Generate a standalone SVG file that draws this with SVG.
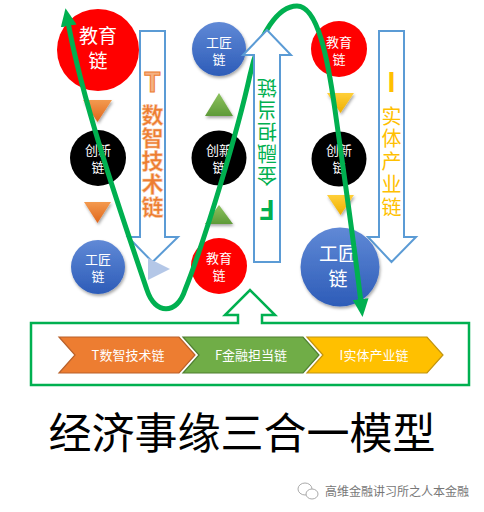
<svg xmlns="http://www.w3.org/2000/svg" width="484" height="512" viewBox="0 0 484 512">
<defs>
<style>
.ct{font-family:"Noto Sans CJK SC","Noto Sans",sans-serif;fill:#fff;text-anchor:middle}
.arr{fill:#fff;stroke:#5B9BD5;stroke-width:2}
.vt{font-family:"Noto Sans CJK SC","Noto Sans",sans-serif;text-anchor:middle}
.vv{font-family:"Noto Sans CJK SC","Noto Sans",sans-serif;writing-mode:vertical-rl;text-orientation:upright}
.chev-t{font-family:"Noto Sans CJK SC","Noto Sans",sans-serif;fill:#fff;text-anchor:middle;font-size:13px}
.ttl{font-family:"Noto Sans CJK SC","Noto Sans",sans-serif;font-size:43px;text-anchor:middle;fill:#000}
.wm{font-family:"Noto Sans CJK SC","Noto Sans",sans-serif;font-size:12px;fill:#777}
</style>
<linearGradient id="gBlue" x1="0" y1="0" x2="0" y2="1"><stop offset="0" stop-color="#6089D6"/><stop offset="1" stop-color="#2D5CB8"/></linearGradient>
<linearGradient id="gOr" x1="0" y1="0" x2="0" y2="1"><stop offset="0" stop-color="#F39A4F"/><stop offset="1" stop-color="#E0661A"/></linearGradient>
<linearGradient id="gGr" x1="0" y1="0" x2="0" y2="1"><stop offset="0" stop-color="#8CC25E"/><stop offset="1" stop-color="#5E9A38"/></linearGradient>
<linearGradient id="gYe" x1="0" y1="0" x2="0" y2="1"><stop offset="0" stop-color="#FFCF3A"/><stop offset="1" stop-color="#EEAF00"/></linearGradient>
<filter id="sh" x="-30%" y="-30%" width="160%" height="160%"><feDropShadow dx="1" dy="2" stdDeviation="1.5" flood-color="#000" flood-opacity="0.35"/></filter>
<marker id="ah" markerUnits="userSpaceOnUse" viewBox="0 0 18 16" markerWidth="18" markerHeight="16" refX="4" refY="8" orient="auto-start-reverse"><path d="M0,0 L18,8 L0,16 Z" fill="#00B050"/></marker>
</defs>
<rect width="484" height="512" fill="#fff"/>

<g id="arrow-T">
<path class="arr" d="M140,31 H165 V237 H178 L152.5,262 L128,237 H140 Z"/>
<polygon points="148,258 170,269 148,280" fill="#B4C7E7"/>
<text class="vt" x="152.5" y="92" font-size="27" font-weight="bold" fill="#F4B183" stroke="#ED7D31" stroke-width="1">T</text>
<text class="vv" x="152.5" y="104" font-size="22" letter-spacing="1" font-weight="bold" fill="#ED7D31" stroke="#F8CBAD" stroke-width="0.5">数智技术链</text>
</g>

<g id="arrow-I">
<path class="arr" d="M379,31 H404 V237 H416 L391.5,262 L368,237 H379 Z"/>
<text class="vt" x="391.5" y="92" font-size="27" font-weight="bold" fill="#FFC000">I</text>
<text class="vv" x="391.5" y="106" font-size="20" letter-spacing="2.75" fill="#FFC000">实体产业链</text>
</g>

<g id="tri-left">
<polygon points="83,100 112,100 97.5,122" fill="url(#gOr)" filter="url(#sh)"/>
<polygon points="84,202 111,202 97.5,223" fill="url(#gOr)" filter="url(#sh)"/>
</g>
<g id="tri-mid">
<polygon points="219,93 233,116 205,116" fill="url(#gGr)" filter="url(#sh)"/>
<polygon points="219,205 233,224 205,224" fill="url(#gGr)" filter="url(#sh)"/>
</g>
<g id="tri-right">
<polygon points="327,93 354,93 340.5,113" fill="url(#gYe)" filter="url(#sh)"/>
<polygon points="327,195 354,195 340.5,215" fill="url(#gYe)" filter="url(#sh)"/>
</g>

<g id="node-L-edu">
<circle cx="98" cy="50" r="41" fill="#FF0000"/>
<text class="ct" font-size="19"><tspan x="98" y="43">教育</tspan><tspan x="98" y="68">链</tspan></text>
</g>
<g id="node-L-inno">
<circle cx="98" cy="158" r="28" fill="#000"/>
<text class="ct" font-size="13"><tspan x="98" y="154.5">创新</tspan><tspan x="98" y="172">链</tspan></text>
</g>
<g id="node-L-craft">
<circle cx="98" cy="267" r="27" fill="url(#gBlue)" filter="url(#sh)"/>
<text class="ct" font-size="13"><tspan x="98" y="263.5">工匠</tspan><tspan x="98" y="281">链</tspan></text>
</g>

<g id="node-M-craft">
<circle cx="219" cy="49" r="27" fill="url(#gBlue)" filter="url(#sh)"/>
<text class="ct" font-size="13"><tspan x="219" y="46.5">工匠</tspan><tspan x="219" y="64">链</tspan></text>
</g>
<g id="node-M-inno">
<circle cx="219" cy="158" r="27.5" fill="#000"/>
<text class="ct" font-size="13"><tspan x="219" y="154.5">创新</tspan><tspan x="219" y="172">链</tspan></text>
</g>
<g id="node-M-edu">
<circle cx="219" cy="266" r="28" fill="#FF0000"/>
<text class="ct" font-size="13"><tspan x="219" y="262.5">教育</tspan><tspan x="219" y="280">链</tspan></text>
</g>

<g id="node-R-edu">
<circle cx="339" cy="49" r="28" fill="#FF0000"/>
<text class="ct" font-size="13"><tspan x="339" y="46.5">教育</tspan><tspan x="339" y="64">链</tspan></text>
</g>
<g id="node-R-inno">
<circle cx="339" cy="159" r="27.5" fill="#000"/>
<text class="ct" font-size="13"><tspan x="339" y="154.5">创新</tspan><tspan x="339" y="172">链</tspan></text>
</g>
<g id="node-R-craft">
<circle cx="340" cy="267" r="39.5" fill="url(#gBlue)" filter="url(#sh)"/>
<text class="ct" font-size="19"><tspan x="338" y="261">工匠</tspan><tspan x="338" y="286">链</tspan></text>
</g>

<g id="connectors">
<path d="M68,22 C83,105 125,225 147,290 C155,315 177,315 185,290 C205,240 238,130 250,75 C259,34 278,6 297,6 C318,6 328,60 335,110 C342,160 355,250 361,303" fill="none" stroke="#00B050" stroke-width="5" marker-start="url(#ah)" marker-end="url(#ah)"/>
</g>

<g id="arrow-F">
<path class="arr" d="M254,262 V55 H243 L267,30 L291,55 H280 V262 Z"/>
<g transform="rotate(180 267 148.5)" fill="#00B050">
<text class="vt" x="267" y="97" font-size="27" font-weight="bold">F</text>
<text class="vv" x="267" y="111" font-size="20" letter-spacing="2">金融担当链</text>
</g>
</g>

<g id="frame">
<path d="M31,323 H238 V315 H225 L250,290 L275,315 H262 V323 H469 V385 H31 Z" fill="none" stroke="#00B050" stroke-width="2.5"/>
</g>

<g id="chev-T">
<polygon points="59,337 179,337 195,355 179,373 59,373 75,355" fill="#ED7D31" stroke="#B9612A" stroke-width="1.2"/>
<text class="chev-t" x="128" y="360">T数智技术链</text>
</g>
<g id="chev-F">
<polygon points="183,337 303,337 319,355 303,373 183,373 199,355" fill="#70AD47" stroke="#4E7F31" stroke-width="1.2"/>
<text class="chev-t" x="251" y="360">F金融担当链</text>
</g>
<g id="chev-I">
<polygon points="307,337 427,337 443,355 427,373 307,373 323,355" fill="#FFC000" stroke="#C09410" stroke-width="1.2"/>
<text class="chev-t" x="374" y="360">I实体产业链</text>
</g>

<g id="title">
<text class="ttl" x="242" y="449">经济事缘三合一模型</text>
</g>

<g id="watermark">
<ellipse cx="305" cy="489" rx="7" ry="6" fill="#fff" stroke="#AAA" stroke-width="1"/>
<ellipse cx="312" cy="494" rx="6" ry="5" fill="#fff" stroke="#AAA" stroke-width="1"/>
<text class="wm" x="325" y="496">高维金融讲习所之人本金融</text>
</g>
</svg>
